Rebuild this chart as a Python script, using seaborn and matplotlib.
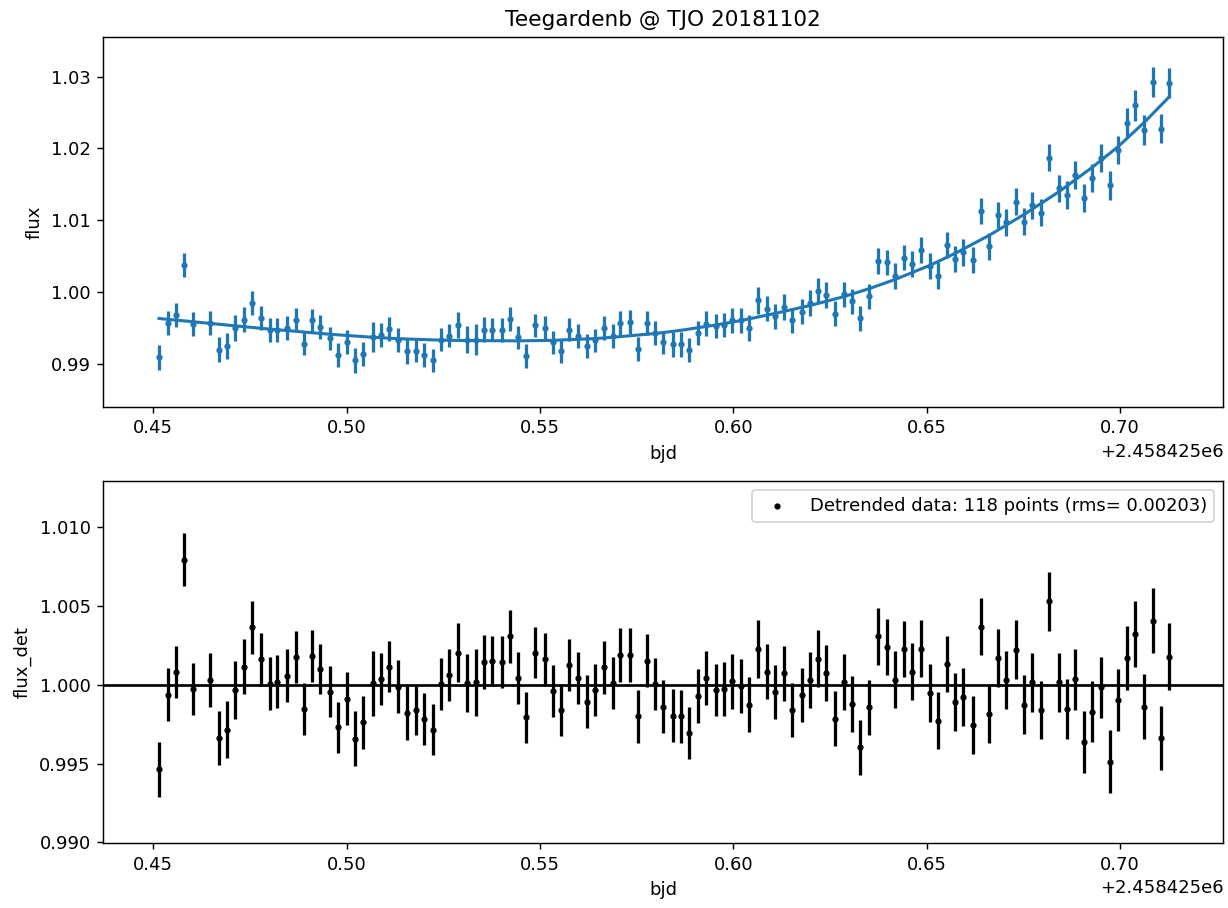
import matplotlib
matplotlib.use("Agg")
import matplotlib.pyplot as plt
import seaborn as sns
import pandas as pd

# ---------------- data ----------------
bjd = [2458425.45147, 2458425.45372, 2458425.45579, 2458425.45794, 2458425.46019,
       2458425.46466, 2458425.46691, 2458425.46898, 2458425.47113, 2458425.47353,
       2458425.47560, 2458425.47785, 2458425.48010, 2458425.48207, 2458425.48457,
       2458425.48682, 2458425.48889, 2458425.49112, 2458425.49311, 2458425.49562,
       2458425.49784, 2458425.50001, 2458425.50216, 2458425.50431, 2458425.50674,
       2458425.50896, 2458425.51103, 2458425.51328, 2458425.51553, 2458425.51786,
       2458425.52000, 2458425.52225, 2458425.52432, 2458425.52655, 2458425.52887,
       2458425.53112, 2458425.53337, 2458425.53544, 2458425.53759, 2458425.54017,
       2458425.54224, 2458425.54439, 2458425.54646, 2458425.54863, 2458425.55122,
       2458425.55328, 2458425.55543, 2458425.55750, 2458425.55975, 2458425.56223,
       2458425.56430, 2458425.56655, 2458425.56880, 2458425.57077, 2458425.57327,
       2458425.57534, 2458425.57759, 2458425.57974, 2458425.58189, 2458425.58432,
       2458425.58646, 2458425.58861, 2458425.59094, 2458425.59293, 2458425.59551,
       2458425.59758, 2458425.59973, 2458425.60190, 2458425.60413, 2458425.60645,
       2458425.60870, 2458425.61077, 2458425.61302, 2458425.61509, 2458425.61768,
       2458425.61990, 2458425.62181, 2458425.62404, 2458425.62629, 2458425.62861,
       2458425.63076, 2458425.63283, 2458425.63508, 2458425.63741, 2458425.63966,
       2458425.64188, 2458425.64413, 2458425.64620, 2458425.64845, 2458425.65078,
       2458425.65292, 2458425.65517, 2458425.65724, 2458425.65939, 2458425.66190,
       2458425.66404, 2458425.66619, 2458425.66836, 2458425.67058, 2458425.67309,
       2458425.67516, 2458425.67731, 2458425.67956, 2458425.68155, 2458425.68414,
       2458425.68620, 2458425.68835, 2458425.69060, 2458425.69275, 2458425.69515,
       2458425.69740, 2458425.69947, 2458425.70172, 2458425.70379, 2458425.70627,
       2458425.70844, 2458425.71051, 2458425.71266]

flux = [0.99092, 0.99567, 0.99683, 1.00372, 0.99557, 0.99567, 0.99194, 0.99240, 0.99497, 0.99613,
        0.99846, 0.99637, 0.99473, 0.99473, 0.99497, 0.99613, 0.99278, 0.99603, 0.99511, 0.99357,
        0.99124, 0.99302, 0.99045, 0.99138, 0.99372, 0.99404, 0.99483, 0.99334, 0.99170, 0.99180,
        0.99120, 0.99045, 0.99334, 0.99390, 0.99539, 0.99334, 0.99334, 0.99473, 0.99473, 0.99473,
        0.99627, 0.99366, 0.99110, 0.99534, 0.99492, 0.99296, 0.99180, 0.99473, 0.99380, 0.99250,
        0.99324, 0.99492, 0.99390, 0.99567, 0.99585, 0.99204, 0.99567, 0.99427, 0.99296, 0.99268,
        0.99268, 0.99184, 0.99427, 0.99557, 0.99520, 0.99539, 0.99603, 0.99603, 0.99497, 0.99883,
        0.99763, 0.99659, 0.99790, 0.99603, 0.99725, 0.99846, 1.00014, 0.99958, 0.99697, 0.99966,
        0.99869, 0.99631, 0.99939, 1.00427, 1.00413, 1.00218, 1.00479, 1.00395, 1.00581, 1.00367,
        1.00228, 1.00651, 1.00461, 1.00553, 1.00441, 1.01126, 1.00637, 1.01070, 1.00972, 1.01257,
        1.00982, 1.01210, 1.01103, 1.01872, 1.01443, 1.01349, 1.01628, 1.01313, 1.01592, 1.01872,
        1.01485, 1.01978, 1.02360, 1.02602, 1.02257, 1.02927, 1.02277, 1.02909]

flux_err = [0.00175, 0.00169, 0.00166, 0.00169, 0.00166, 0.00171, 0.00172, 0.00182, 0.00186, 0.00177,
            0.00169, 0.00169, 0.00169, 0.00169, 0.00168, 0.00166, 0.00164, 0.00166, 0.00161, 0.00161,
            0.00164, 0.00166, 0.00177, 0.00170, 0.00206, 0.00166, 0.00163, 0.00167, 0.00171, 0.00156,
            0.00164, 0.00162, 0.00164, 0.00164, 0.00186, 0.00185, 0.00212, 0.00172, 0.00159, 0.00166,
            0.00167, 0.00166, 0.00164, 0.00162, 0.00169, 0.00164, 0.00166, 0.00164, 0.00167, 0.00166,
            0.00164, 0.00168, 0.00167, 0.00170, 0.00169, 0.00167, 0.00169, 0.00166, 0.00166, 0.00169,
            0.00171, 0.00167, 0.00171, 0.00171, 0.00167, 0.00171, 0.00175, 0.00172, 0.00175, 0.00185,
            0.00174, 0.00172, 0.00175, 0.00172, 0.00172, 0.00177, 0.00180, 0.00177, 0.00176, 0.00178,
            0.00177, 0.00177, 0.00177, 0.00180, 0.00177, 0.00180, 0.00179, 0.00180, 0.00180, 0.00182,
            0.00183, 0.00180, 0.00184, 0.00185, 0.00183, 0.00183, 0.00185, 0.00185, 0.00186, 0.00188,
            0.00188, 0.00188, 0.00186, 0.00187, 0.00188, 0.00193, 0.00195, 0.00196, 0.00195, 0.00196,
            0.00199, 0.00198, 0.00204, 0.00212, 0.00207, 0.00206, 0.00203, 0.00212]

flux_det = [0.99465, 0.99937, 1.00083, 1.00794, 0.99973, 1.00032, 0.99663, 0.99716, 0.99968, 1.00116,
            1.00366, 1.00163, 1.00006, 1.00019, 1.00057, 1.00176, 0.99846, 1.00184, 1.00100, 0.99957,
            0.99729, 0.99913, 0.99659, 0.99761, 1.00011, 1.00036, 1.00116, 0.99989, 0.99820, 0.99837,
            0.99782, 0.99714, 1.00006, 1.00062, 1.00205, 1.00011, 1.00015, 1.00146, 1.00154, 1.00146,
            1.00307, 1.00044, 0.99793, 1.00205, 1.00163, 0.99962, 0.99839, 1.00127, 1.00044, 0.99894,
            0.99968, 1.00112, 1.00011, 1.00189, 1.00189, 0.99799, 1.00154, 1.00006, 0.99862, 0.99803,
            0.99799, 0.99693, 0.99930, 1.00043, 0.99968, 0.99973, 1.00023, 0.99994, 0.99873, 1.00227,
            1.00084, 0.99956, 1.00072, 0.99841, 0.99935, 1.00032, 1.00167, 1.00074, 0.99786, 1.00017,
            0.99877, 0.99602, 0.99856, 1.00307, 1.00241, 1.00032, 1.00229, 1.00084, 1.00229, 0.99949,
            0.99773, 1.00133, 0.99888, 0.99922, 0.99744, 1.00370, 0.99816, 1.00171, 1.00030, 1.00222,
            0.99875, 1.00015, 0.99841, 1.00529, 1.00015, 0.99846, 1.00034, 0.99638, 0.99829, 0.99983,
            0.99513, 0.99903, 1.00170, 1.00322, 0.99860, 1.00406, 0.99663, 1.00178]

# fitted trend curve, read at several positions along the line
trend_bjd = [2458425.45147, 2458425.46019, 2458425.47353, 2458425.48010, 2458425.49562,
             2458425.50674, 2458425.51328, 2458425.52432, 2458425.53112, 2458425.54439,
             2458425.55328, 2458425.56430, 2458425.56880, 2458425.57974, 2458425.58646,
             2458425.59551, 2458425.60190, 2458425.61077, 2458425.61990, 2458425.62861,
             2458425.63508, 2458425.64188, 2458425.65078, 2458425.65724, 2458425.66619,
             2458425.67516, 2458425.68414, 2458425.69275, 2458425.69947, 2458425.70627,
             2458425.71266]
trend_flux = [0.99630, 0.99585, 0.99515, 0.99482, 0.99410, 0.99368, 0.99348, 0.99328, 0.99322,
              0.99318, 0.99325, 0.99350, 0.99368, 0.99420, 0.99465, 0.99540, 0.99600, 0.99700,
              0.99812, 0.99935, 1.00045, 1.00175, 1.00370, 1.00535, 1.00790, 1.01080, 1.01395,
              1.01735, 1.02025, 1.02365, 1.02718]

title_text = "Teegardenb @ TJO 20181102"
rms_value = 0.00203

# ---------------- plotting ----------------
blue = "#1f77b4"
df = pd.DataFrame({"bjd": bjd, "flux": flux, "err": flux_err, "flux_det": flux_det})
trend_df = pd.DataFrame({"bjd": trend_bjd, "flux": trend_flux})

fig = plt.figure(figsize=(1228 / 130, 908 / 130), dpi=130)
ax1 = fig.add_axes([0.0841, 0.5521, 0.9121, 0.4068])
ax2 = fig.add_axes([0.0841, 0.0713, 0.9121, 0.3993])

# top panel: raw flux + trend
ax1.errorbar(df["bjd"], df["flux"], yerr=df["err"], fmt="none", ecolor=blue, elinewidth=1.8)
sns.scatterplot(data=df, x="bjd", y="flux", ax=ax1, color=blue, s=12, linewidth=0, zorder=3)
sns.lineplot(data=trend_df, x="bjd", y="flux", ax=ax1, color=blue, linewidth=1.7, sort=False)
ax1.set_title(title_text)
ax1.set_xlabel("bjd")
ax1.set_ylabel("flux")
ax1.set_xlim(2458425.43707, 2458425.72670)
ax1.set_ylim(0.9840, 1.0355)

# bottom panel: detrended flux
legend_text = f"Detrended data: {len(bjd)} points (rms= {rms_value:.5f})"
ax2.axhline(1.0, color="k", linewidth=1.5, zorder=1)
ax2.errorbar(df["bjd"], df["flux_det"], yerr=df["err"], fmt="none", ecolor="k", elinewidth=1.8, zorder=2)
sns.scatterplot(data=df, x="bjd", y="flux_det", ax=ax2, color="k", s=12, linewidth=0,
                zorder=3, label=legend_text)
ax2.legend(loc="upper right")
ax2.set_xlabel("bjd")
ax2.set_ylabel("flux_det")
ax2.set_xlim(2458425.43707, 2458425.72670)
ax2.set_ylim(0.98994, 1.01296)
ax2.set_yticks([0.990, 0.995, 1.000, 1.005, 1.010])

fig.savefig("out.png", dpi=130)
